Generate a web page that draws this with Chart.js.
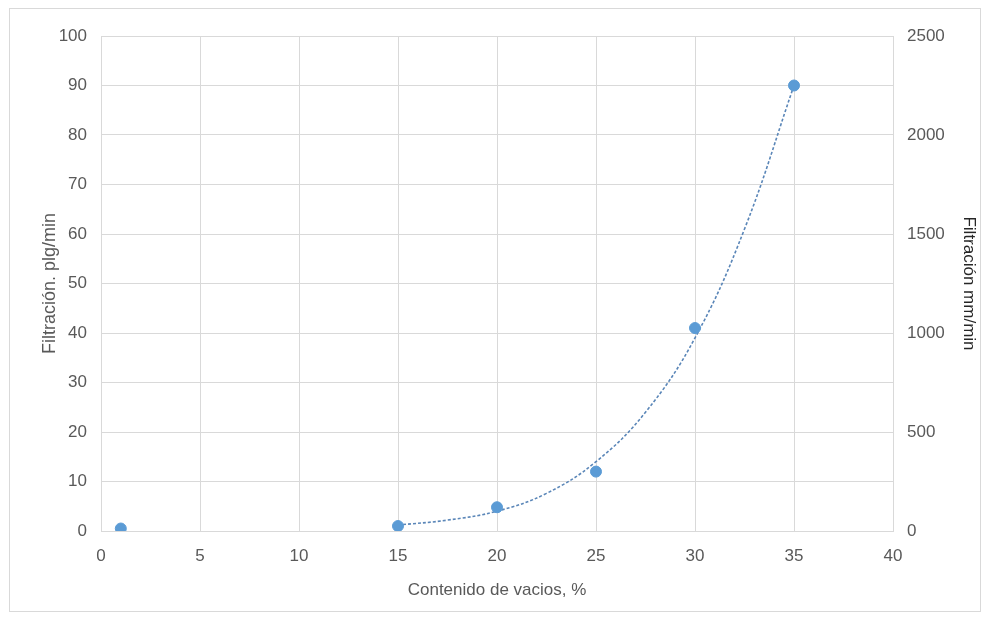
<!DOCTYPE html>
<html>
<head>
<meta charset="utf-8">
<script src="https://cdn.jsdelivr.net/npm/chart.js@4.4.1/dist/chart.umd.min.js"></script>
<style>
    html, body { margin: 0; padding: 0; background: #ffffff; }
    #wrap { position: absolute; left: 0; top: 0; width: 982px; height: 617px; }
    #frame { position: absolute; left: 9px; top: 8px; width: 972px; height: 604px; border: 1px solid #d9d9d9; box-sizing: border-box; pointer-events: none; }
</style>
</head>
<body>
<div id="wrap">
    <canvas id="filtrChart" width="982" height="617"></canvas>
</div>
<div id="frame"></div>
<script>
// measured points
const vacios = [1, 15, 20, 25, 30, 35];
const filtracion = [0.5, 1, 4.8, 12, 41, 90];

// trendline
const trendX = [15, 17.5, 20, 22.5, 25, 27.5, 30, 32.5, 35];
const trendY = [1.2, 2.2, 4.0, 7.6, 14, 24, 39, 61, 90];

const xTicks = [0, 5, 10, 15, 20, 25, 30, 35, 40];
const leftTicks = [0, 10, 20, 30, 40, 50, 60, 70, 80, 90, 100];
const rightTicks = [0, 500, 1000, 1500, 2000, 2500];

const gridColor = '#d9d9d9';
const textColor = '#595959';
const fontFamily = '"Liberation Sans", Arial, sans-serif';

const ctx = document.getElementById('filtrChart');

new Chart(ctx, {
    type: 'scatter',
    data: {
        datasets: [
            {
                label: 'Filtración',
                data: vacios.map((v, i) => ({ x: v, y: filtracion[i] })),
                backgroundColor: '#5b9bd5',
                borderColor: '#5b9bd5',
                pointRadius: 5.5,
                pointHoverRadius: 5.5,
                showLine: false,
                order: 1
            },
            {
                label: 'Tendencia',
                type: 'line',
                data: trendX.map((v, i) => ({ x: v, y: trendY[i] })),
                borderColor: '#5a86b8',
                borderWidth: 1.6,
                borderDash: [3, 2],
                pointRadius: 0,
                fill: false,
                tension: 0.4,
                order: 2
            }
        ]
    },
    options: {
        responsive: false,
        animation: false,
        layout: { padding: { top: 36, left: 0, right: 0, bottom: 0 } },
        plugins: { legend: { display: false }, tooltip: { enabled: false } },
        scales: {
            x: {
                type: 'linear',
                min: 0,
                max: 40,
                afterBuildTicks: (scale) => { scale.ticks = xTicks.map(v => ({ value: v })); },
                afterFit: (scale) => { scale.height = 86; },
                grid: { color: gridColor, drawTicks: false },
                border: { color: gridColor },
                ticks: { color: textColor, font: { family: fontFamily, size: 17 }, padding: 15 },
                title: {
                    display: true,
                    text: 'Contenido de vacios, %',
                    color: textColor,
                    font: { family: fontFamily, size: 17 },
                    padding: { top: 0, bottom: 16 }
                }
            },
            y: {
                position: 'left',
                min: 0,
                max: 100,
                afterBuildTicks: (scale) => { scale.ticks = leftTicks.map(v => ({ value: v })); },
                afterFit: (scale) => { scale.width = 101; },
                grid: { color: gridColor, drawTicks: false },
                border: { color: gridColor },
                ticks: { color: textColor, font: { family: fontFamily, size: 17 }, padding: 14 },
                title: {
                    display: true,
                    text: 'Filtración. plg/min',
                    color: textColor,
                    font: { family: fontFamily, size: 18 },
                    padding: { top: 39, bottom: 0 }
                }
            },
            y2: {
                position: 'right',
                display: true,
                min: 0,
                max: 2500,
                afterBuildTicks: (scale) => { scale.ticks = rightTicks.map(v => ({ value: v })); },
                afterFit: (scale) => { scale.width = 89; },
                grid: { display: false, drawTicks: false },
                border: { color: gridColor },
                ticks: {
                    color: textColor,
                    font: { family: fontFamily, size: 17 },
                    padding: 14,
                    callback: (v) => String(v)
                },
                title: {
                    display: true,
                    text: 'Filtración mm/min',
                    color: '#262626',
                    font: { family: fontFamily, size: 17 },
                    padding: { top: 3, bottom: 0 }
                }
            }
        }
    }
});
</script>
</body>
</html>
